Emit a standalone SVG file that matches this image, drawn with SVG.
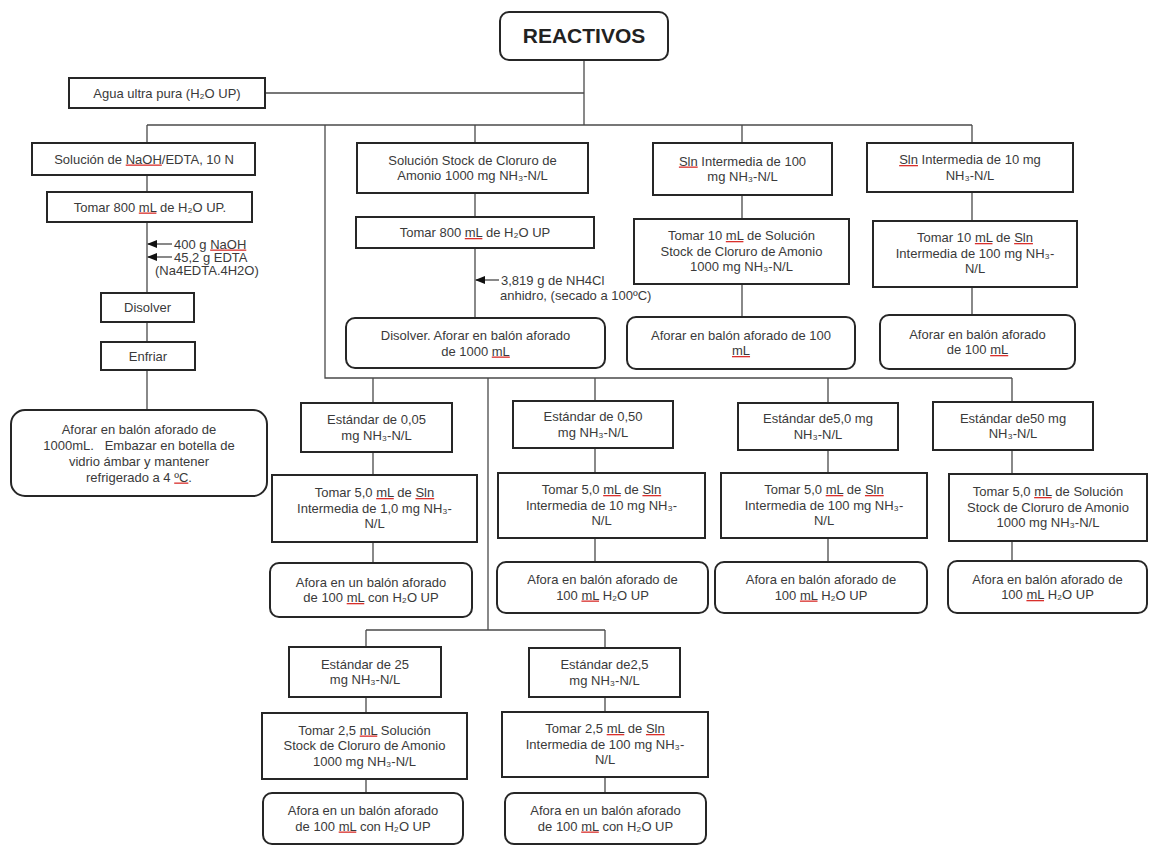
<svg xmlns="http://www.w3.org/2000/svg" width="1149" height="846" viewBox="0 0 1149 846">
<style>
.bx{fill:#fff;stroke:#262626;stroke-width:2}
.t{font-family:"Liberation Sans",Arial,sans-serif;font-size:13px;fill:#3a3a3a;text-anchor:middle}
.tl{font-family:"Liberation Sans",Arial,sans-serif;font-size:13px;fill:#3a3a3a}
.h{font-family:"Liberation Sans",Arial,sans-serif;font-size:21px;font-weight:bold;fill:#222;text-anchor:middle}
.sp{fill:#d9302c;text-decoration:underline}
.w{fill:#3a3a3a}
.c{fill:none;stroke:#4a4a4a;stroke-width:1.3}
</style>
<defs>
<marker id="ar" markerWidth="10" markerHeight="8" refX="9" refY="4" orient="auto" markerUnits="userSpaceOnUse">
<path d="M0,0 L10,4 L0,8 Z" fill="#111"/>
</marker>
</defs>
<rect width="1149" height="846" fill="#fff"/>
<g id="connectors" class="c">
<path d="M584,60 V125"/>
<path d="M265,93 H584"/>
<path d="M147,125 H972"/>
<path d="M147,125 V143 M147,175 V192 M147,222 V293 M147,322 V342 M147,370 V410"/>
<path d="M325,125 V378 H1012"/>
<path d="M475,125 V143 M475,193 V217 M475,248 V318"/>
<path d="M742,125 V143 M742,195 V219 M742,284 V317"/>
<path d="M972,125 V143 M972,192 V221 M972,287 V315"/>
<path d="M373,378 V403 M373,452 V475 M373,542 V563"/>
<path d="M595,378 V401 M595,448 V473 M595,538 V562"/>
<path d="M828,378 V403 M828,450 V473 M828,538 V562"/>
<path d="M1012,378 V402 M1012,450 V474 M1012,541 V561"/>
<path d="M488,378 V630 M366,630 H605"/>
<path d="M366,630 V647 M366,697 V713 M366,779 V793"/>
<path d="M605,630 V648 M605,697 V712 M605,777 V793"/>
<path d="M172,244 H148" marker-end="url(#ar)"/>
<path d="M172,257 H148" marker-end="url(#ar)"/>
<path d="M499,280 H476" marker-end="url(#ar)"/>
</g>
<g id="reactivos"><rect class="bx" x="500" y="12" width="168" height="48" rx="9"/><text class="h" x="584" y="43">REACTIVOS</text></g>
<g id="agua"><rect class="bx" x="69" y="78" width="196" height="30"/><text class="t" x="167" y="97.5">Agua ultra pura (H₂O UP)</text></g>
<g id="naoh"><rect class="bx" x="32" y="143" width="223" height="32"/><text class="t" x="144" y="163.5">Solución de <tspan class="sp"><tspan class="w">NaOH</tspan></tspan>/EDTA, 10 N</text></g>
<g id="tomar800a"><rect class="bx" x="47" y="192" width="205" height="30"/><text class="t" x="150" y="211.5">Tomar 800 <tspan class="sp"><tspan class="w">mL</tspan></tspan> de H₂O UP.</text></g>
<g id="reactivos-naoh"><text class="tl" x="174" y="248.5">400 g <tspan class="sp"><tspan class="w">NaOH</tspan></tspan></text><text class="tl" x="174" y="261.5">45,2 g EDTA</text><text class="tl" x="155" y="274.5">(Na4EDTA.4H2O)</text></g>
<g id="disolver"><rect class="bx" x="101" y="293" width="93" height="29"/><text class="t" x="147.5" y="312">Disolver</text></g>
<g id="enfriar"><rect class="bx" x="101" y="342" width="94" height="28"/><text class="t" x="148" y="360.5">Enfriar</text></g>
<g id="aforar1000"><rect class="bx" x="11" y="410" width="256" height="86" rx="14"/><text class="t" x="139" y="433.5"><tspan x="139">Aforar en balón aforado de</tspan><tspan x="139" dy="16">1000mL.&#160;&#160; Embazar en botella de</tspan><tspan x="139" dy="16">vidrio ámbar y mantener</tspan><tspan x="139" dy="16">refrigerado a 4 <tspan class="sp"><tspan class="w">ºC</tspan></tspan>.</tspan></text></g>
<g id="stock"><rect class="bx" x="357" y="143" width="231" height="50"/><text class="t" x="472.5" y="164.5"><tspan x="472.5">Solución Stock de Cloruro de</tspan><tspan x="472.5" dy="15.5">Amonio 1000 mg NH₃-N/L</tspan></text></g>
<g id="tomar800b"><rect class="bx" x="356" y="217" width="238" height="31"/><text class="t" x="475" y="237">Tomar 800 <tspan class="sp"><tspan class="w">mL</tspan></tspan> de H₂O UP</text></g>
<g id="nh4cl"><text class="tl" x="501" y="285">3,819 g de NH4Cl</text><text class="tl" x="500" y="300">anhidro, (secado a 100ºC)</text></g>
<g id="disolver-aforar"><rect class="bx" x="346" y="318" width="259" height="50" rx="9"/><text class="t" x="475.5" y="340"><tspan x="475.5">Disolver. Aforar en balón aforado</tspan><tspan x="475.5" dy="15.5">de 1000 <tspan class="sp"><tspan class="w">mL</tspan></tspan></tspan></text></g>
<g id="sln100"><rect class="bx" x="653" y="143" width="179" height="52"/><text class="t" x="742.5" y="165.5"><tspan x="742.5"><tspan class="sp"><tspan class="w">Sln</tspan></tspan> Intermedia de 100</tspan><tspan x="742.5" dy="15.5">mg NH₃-N/L</tspan></text></g>
<g id="tomar10a"><rect class="bx" x="634" y="219" width="215" height="65"/><text class="t" x="741.5" y="240"><tspan x="741.5">Tomar 10 <tspan class="sp"><tspan class="w">mL</tspan></tspan> de Solución</tspan><tspan x="741.5" dy="15.5">Stock de Cloruro de Amonio</tspan><tspan x="741.5" dy="15.5">1000 mg NH₃-N/L</tspan></text></g>
<g id="aforar100a"><rect class="bx" x="627" y="317" width="228" height="52" rx="9"/><text class="t" x="741" y="339.5"><tspan x="741">Aforar en balón aforado de 100</tspan><tspan x="741" dy="15.5"><tspan class="sp"><tspan class="w">mL</tspan></tspan></tspan></text></g>
<g id="sln10"><rect class="bx" x="867" y="143" width="206" height="49"/><text class="t" x="970" y="164"><tspan x="970"><tspan class="sp"><tspan class="w">Sln</tspan></tspan> Intermedia de 10 mg</tspan><tspan x="970" dy="15.5">NH₃-N/L</tspan></text></g>
<g id="tomar10b"><rect class="bx" x="873" y="221" width="204" height="66"/><text class="t" x="975" y="242"><tspan x="975">Tomar 10 <tspan class="sp"><tspan class="w">mL</tspan></tspan> de <tspan class="sp"><tspan class="w">Sln</tspan></tspan></tspan><tspan x="975" dy="15.5">Intermedia de 100 mg NH₃-</tspan><tspan x="975" dy="15.5">N/L</tspan></text></g>
<g id="aforar100b"><rect class="bx" x="880" y="315" width="195" height="54" rx="9"/><text class="t" x="977.5" y="338.5"><tspan x="977.5">Aforar en balón aforado</tspan><tspan x="977.5" dy="15.5">de 100 <tspan class="sp"><tspan class="w">mL</tspan></tspan></tspan></text></g>
<g id="est005"><rect class="bx" x="301" y="403" width="151" height="49"/><text class="t" x="376.5" y="424"><tspan x="376.5">Estándar de 0,05</tspan><tspan x="376.5" dy="15.5">mg NH₃-N/L</tspan></text></g>
<g id="tomar-est005"><rect class="bx" x="272" y="475" width="205" height="67"/><text class="t" x="374.5" y="497"><tspan x="374.5">Tomar 5,0 <tspan class="sp"><tspan class="w">mL</tspan></tspan> de <tspan class="sp"><tspan class="w">Sln</tspan></tspan></tspan><tspan x="374.5" dy="15.5">Intermedia de 1,0 mg NH₃-</tspan><tspan x="374.5" dy="15.5">N/L</tspan></text></g>
<g id="afora-est005"><rect class="bx" x="270" y="563" width="202" height="54" rx="9"/><text class="t" x="371" y="586.5"><tspan x="371">Afora en un balón aforado</tspan><tspan x="371" dy="15.5">de 100 <tspan class="sp"><tspan class="w">mL</tspan></tspan> con H₂O UP</tspan></text></g>
<g id="est050"><rect class="bx" x="513" y="401" width="160" height="47"/><text class="t" x="593" y="421"><tspan x="593">Estándar de 0,50</tspan><tspan x="593" dy="15.5">mg NH₃-N/L</tspan></text></g>
<g id="tomar-est050"><rect class="bx" x="498" y="473" width="207" height="65"/><text class="t" x="601.5" y="494"><tspan x="601.5">Tomar 5,0 <tspan class="sp"><tspan class="w">mL</tspan></tspan> de <tspan class="sp"><tspan class="w">Sln</tspan></tspan></tspan><tspan x="601.5" dy="15.5">Intermedia de 10 mg NH₃-</tspan><tspan x="601.5" dy="15.5">N/L</tspan></text></g>
<g id="afora-est050"><rect class="bx" x="497" y="562" width="211" height="51" rx="9"/><text class="t" x="602.5" y="584"><tspan x="602.5">Afora en balón aforado de</tspan><tspan x="602.5" dy="15.5">100 <tspan class="sp"><tspan class="w">mL</tspan></tspan> H₂O UP</tspan></text></g>
<g id="est50mg"><rect class="bx" x="738" y="403" width="160" height="47"/><text class="t" x="818" y="423"><tspan x="818">Estándar de5,0 mg</tspan><tspan x="818" dy="15.5">NH₃-N/L</tspan></text></g>
<g id="tomar-est5"><rect class="bx" x="721" y="473" width="206" height="65"/><text class="t" x="824" y="494"><tspan x="824">Tomar 5,0 <tspan class="sp"><tspan class="w">mL</tspan></tspan> de <tspan class="sp"><tspan class="w">Sln</tspan></tspan></tspan><tspan x="824" dy="15.5">Intermedia de 100 mg NH₃-</tspan><tspan x="824" dy="15.5">N/L</tspan></text></g>
<g id="afora-est5"><rect class="bx" x="715" y="562" width="212" height="51" rx="9"/><text class="t" x="821" y="584"><tspan x="821">Afora en balón aforado de</tspan><tspan x="821" dy="15.5">100 <tspan class="sp"><tspan class="w">mL</tspan></tspan> H₂O UP</tspan></text></g>
<g id="est50"><rect class="bx" x="933" y="402" width="160" height="48"/><text class="t" x="1013" y="422.5"><tspan x="1013">Estándar de50 mg</tspan><tspan x="1013" dy="15.5">NH₃-N/L</tspan></text></g>
<g id="tomar-est50"><rect class="bx" x="949" y="474" width="198" height="67"/><text class="t" x="1048" y="496"><tspan x="1048">Tomar 5,0 <tspan class="sp"><tspan class="w">mL</tspan></tspan> de Solución</tspan><tspan x="1048" dy="15.5">Stock de Cloruro de Amonio</tspan><tspan x="1048" dy="15.5">1000 mg NH₃-N/L</tspan></text></g>
<g id="afora-est50"><rect class="bx" x="948" y="561" width="199" height="52" rx="9"/><text class="t" x="1047.5" y="583.5"><tspan x="1047.5">Afora en balón aforado de</tspan><tspan x="1047.5" dy="15.5">100 <tspan class="sp"><tspan class="w">mL</tspan></tspan> H₂O UP</tspan></text></g>
<g id="est25"><rect class="bx" x="289" y="647" width="152" height="50"/><text class="t" x="365" y="668.5"><tspan x="365">Estándar de 25</tspan><tspan x="365" dy="15.5">mg NH₃-N/L</tspan></text></g>
<g id="tomar-est25"><rect class="bx" x="262" y="713" width="205" height="66"/><text class="t" x="364.5" y="734.5"><tspan x="364.5">Tomar 2,5 <tspan class="sp"><tspan class="w">mL</tspan></tspan> Solución</tspan><tspan x="364.5" dy="15.5">Stock de Cloruro de Amonio</tspan><tspan x="364.5" dy="15.5">1000 mg NH₃-N/L</tspan></text></g>
<g id="afora-est25"><rect class="bx" x="263" y="793" width="200" height="51" rx="9"/><text class="t" x="363" y="815"><tspan x="363">Afora en un balón aforado</tspan><tspan x="363" dy="15.5">de 100 <tspan class="sp"><tspan class="w">mL</tspan></tspan> con H₂O UP</tspan></text></g>
<g id="est25b"><rect class="bx" x="529" y="648" width="151" height="49"/><text class="t" x="604.5" y="669"><tspan x="604.5">Estándar de2,5</tspan><tspan x="604.5" dy="15.5">mg NH₃-N/L</tspan></text></g>
<g id="tomar-est25b"><rect class="bx" x="502" y="712" width="206" height="65"/><text class="t" x="605" y="733"><tspan x="605">Tomar 2,5 <tspan class="sp"><tspan class="w">mL</tspan></tspan> de <tspan class="sp"><tspan class="w">Sln</tspan></tspan></tspan><tspan x="605" dy="15.5">Intermedia de 100 mg NH₃-</tspan><tspan x="605" dy="15.5">N/L</tspan></text></g>
<g id="afora-est25b"><rect class="bx" x="505" y="793" width="201" height="51" rx="9"/><text class="t" x="605.5" y="815"><tspan x="605.5">Afora en un balón aforado</tspan><tspan x="605.5" dy="15.5">de 100 <tspan class="sp"><tspan class="w">mL</tspan></tspan> con H₂O UP</tspan></text></g>
</svg>
